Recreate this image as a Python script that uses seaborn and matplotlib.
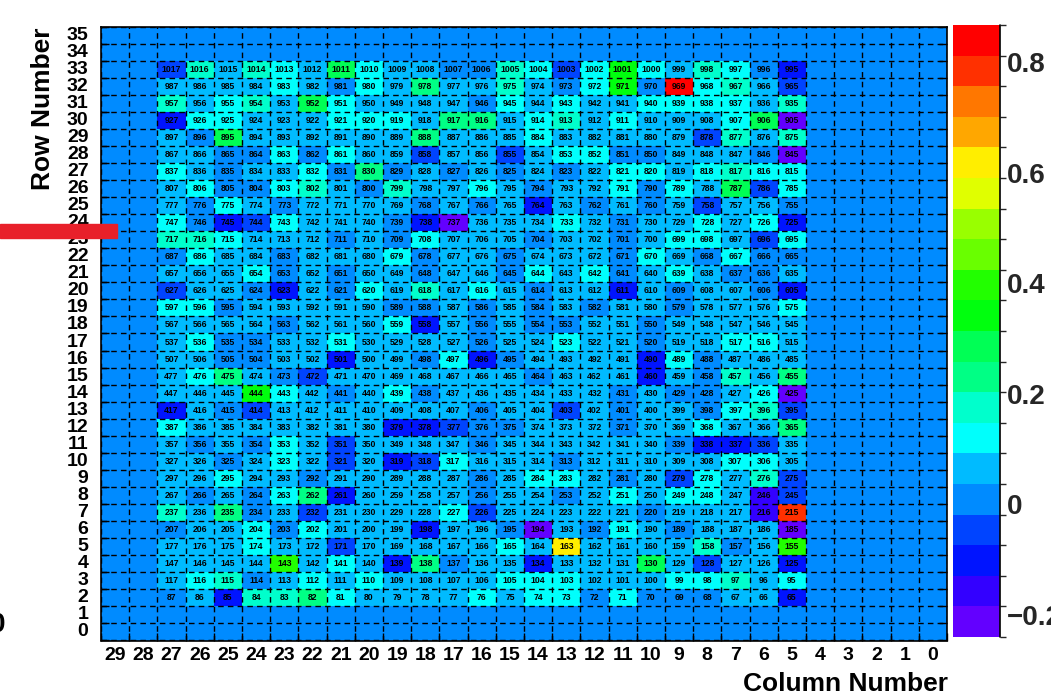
import colorsys

import numpy as np
import pandas as pd
import matplotlib
matplotlib.use("Agg")
import matplotlib.pyplot as plt
from matplotlib.colors import ListedColormap, BoundaryNorm
from matplotlib.patches import Rectangle
import seaborn as sns

# Instrumented columns, listed left to right on the reversed axis (27 ... 5)
columns = list(range(27, 4, -1))

# Per-channel response, one list per detector row (column 27 first)
row_33 = [-0.05, 0.17, 0.06, 0.17, 0.12, 0.06, 0.29, 0.12, 0.06, 0.06, 0.01, 0.01, 0.17, 0.12, -0.05, 0.12, 0.34, 0.12, 0.06, 0.17, 0.12, 0.01, -0.10]
row_32 = [0.06, 0.06, 0.06, 0.06, 0.12, 0.06, 0.01, 0.12, 0.06, 0.23, 0.06, 0.06, 0.17, 0.06, 0.01, 0.12, 0.34, 0.01, 0.84, 0.12, 0.17, 0.06, -0.05]
row_31 = [0.17, 0.06, 0.12, 0.17, 0.06, 0.29, 0.12, 0.06, 0.06, 0.06, 0.06, 0.01, 0.12, 0.06, 0.12, 0.06, 0.06, 0.12, 0.12, 0.12, 0.12, 0.06, 0.17]
row_30 = [-0.10, 0.12, 0.12, 0.06, 0.06, 0.06, 0.12, 0.12, 0.12, 0.06, 0.23, 0.23, 0.06, 0.12, 0.17, 0.06, 0.12, 0.06, 0.06, 0.06, 0.12, 0.29, -0.21]
row_29 = [0.06, 0.01, 0.29, 0.06, 0.06, 0.06, 0.06, 0.06, 0.06, 0.23, 0.06, 0.06, 0.06, 0.12, 0.06, 0.06, 0.06, 0.06, 0.06, -0.05, 0.17, 0.06, 0.17]
row_28 = [0.06, 0.06, 0.01, 0.01, 0.12, 0.01, 0.12, 0.06, 0.06, -0.05, 0.06, 0.06, -0.05, 0.06, 0.12, 0.12, 0.01, 0.01, 0.06, 0.06, 0.06, 0.01, -0.21]
row_27 = [0.12, 0.06, 0.01, 0.06, 0.06, 0.12, 0.01, 0.23, 0.01, 0.06, 0.01, 0.06, 0.01, 0.06, 0.01, 0.06, 0.12, 0.12, 0.06, 0.12, 0.17, 0.12, 0.12]
row_26 = [0.06, 0.12, 0.01, 0.01, 0.12, 0.17, 0.06, 0.01, 0.17, 0.06, 0.06, 0.12, 0.06, 0.01, 0.06, 0.06, 0.12, 0.01, 0.12, 0.06, 0.29, -0.05, 0.12]
row_25 = [0.06, 0.01, 0.12, 0.06, 0.01, 0.06, 0.06, 0.06, 0.06, 0.01, 0.06, 0.01, 0.06, -0.10, 0.06, 0.01, 0.06, 0.01, 0.06, -0.05, 0.06, 0.06, 0.01]
row_24 = [0.12, 0.01, -0.10, -0.05, 0.12, 0.06, 0.06, 0.06, 0.01, -0.10, -0.21, 0.06, 0.06, 0.06, 0.12, 0.06, 0.01, 0.06, 0.06, 0.12, 0.06, 0.12, -0.10]
row_23 = [0.17, 0.17, 0.12, 0.06, 0.06, 0.06, 0.01, 0.06, 0.01, 0.12, 0.06, 0.06, 0.06, 0.01, 0.06, 0.06, 0.01, 0.06, 0.12, 0.12, 0.06, -0.05, 0.12]
row_22 = [0.01, 0.12, 0.06, 0.06, 0.01, 0.06, 0.06, 0.06, 0.12, 0.01, 0.06, 0.06, 0.01, 0.06, 0.06, 0.06, 0.01, 0.12, 0.06, 0.01, 0.12, 0.01, 0.01]
row_21 = [0.06, 0.06, 0.06, 0.12, 0.01, 0.06, 0.01, 0.06, 0.06, 0.01, 0.06, 0.06, 0.01, 0.12, 0.06, 0.12, 0.01, 0.06, 0.12, 0.06, 0.01, 0.01, 0.06]
row_20 = [-0.05, 0.06, 0.06, 0.01, -0.10, 0.06, 0.01, 0.12, 0.06, 0.17, 0.06, 0.12, 0.06, 0.01, 0.06, 0.06, -0.10, 0.06, 0.01, 0.06, 0.06, 0.01, -0.10]
row_19 = [0.12, 0.12, 0.01, 0.06, 0.06, 0.06, 0.06, 0.06, 0.01, 0.01, 0.06, 0.01, 0.06, 0.01, 0.06, 0.01, 0.06, 0.06, 0.01, 0.06, 0.06, 0.06, 0.12]
row_18 = [0.06, 0.06, 0.06, 0.06, 0.01, 0.06, 0.06, 0.06, 0.12, -0.10, 0.06, 0.01, 0.06, 0.01, 0.01, 0.06, 0.06, 0.01, 0.06, 0.06, 0.06, 0.06, 0.06]
row_17 = [0.06, 0.12, 0.01, 0.01, 0.06, 0.06, 0.12, 0.06, 0.06, 0.06, 0.06, 0.01, 0.06, 0.06, 0.12, 0.06, 0.06, 0.01, 0.06, 0.06, 0.12, 0.12, 0.06]
row_16 = [0.06, 0.06, 0.01, 0.01, 0.06, 0.06, -0.10, 0.06, 0.06, 0.01, 0.12, -0.10, 0.01, 0.06, 0.06, 0.06, 0.06, -0.10, 0.12, 0.01, 0.06, 0.06, 0.06]
row_15 = [0.06, 0.12, 0.23, 0.06, 0.01, -0.05, 0.06, 0.06, 0.06, 0.06, 0.06, 0.06, 0.06, 0.01, 0.06, 0.06, 0.06, -0.10, 0.06, 0.01, 0.17, 0.06, 0.23]
row_14 = [0.06, 0.06, 0.06, 0.34, 0.12, 0.06, 0.01, 0.06, 0.12, 0.01, 0.06, 0.06, 0.06, 0.06, 0.06, 0.06, 0.01, 0.06, 0.01, 0.01, 0.06, 0.12, -0.21]
row_13 = [-0.10, 0.06, 0.01, -0.05, 0.06, 0.06, 0.06, 0.06, 0.06, 0.06, 0.06, 0.01, 0.06, 0.06, -0.05, 0.06, 0.01, 0.06, 0.06, 0.01, 0.12, 0.17, -0.05]
row_12 = [0.12, 0.06, 0.06, 0.06, 0.06, 0.06, 0.06, 0.06, -0.10, -0.10, -0.05, 0.01, 0.01, 0.06, 0.06, 0.06, 0.01, 0.06, 0.06, 0.12, 0.06, 0.06, 0.23]
row_11 = [0.06, 0.01, 0.06, 0.01, 0.12, 0.06, -0.05, 0.06, 0.06, 0.06, 0.06, 0.01, 0.06, 0.06, 0.06, 0.06, 0.06, 0.06, 0.01, -0.10, -0.10, -0.05, 0.06]
row_10 = [0.06, 0.06, 0.01, 0.06, 0.12, 0.06, -0.05, 0.06, -0.10, -0.05, 0.12, 0.06, 0.06, 0.06, 0.01, 0.06, 0.06, 0.06, 0.06, 0.06, 0.12, 0.12, 0.06]
row_9 = [0.06, 0.06, 0.12, 0.06, 0.06, 0.01, 0.06, 0.06, 0.06, 0.06, 0.06, 0.01, 0.06, 0.12, 0.12, 0.06, 0.01, 0.06, -0.05, 0.12, 0.06, 0.17, -0.05]
row_8 = [0.06, 0.01, 0.06, 0.01, 0.12, 0.23, -0.10, 0.06, 0.06, 0.06, 0.06, 0.01, 0.06, 0.06, 0.01, 0.06, 0.12, 0.06, 0.12, 0.12, 0.06, -0.16, -0.05]
row_7 = [0.17, 0.06, 0.23, 0.01, 0.06, -0.05, 0.06, 0.06, 0.06, 0.06, 0.12, -0.05, 0.06, 0.06, 0.06, 0.06, 0.06, 0.01, 0.06, 0.06, 0.06, -0.16, 0.78]
row_6 = [0.01, 0.06, 0.06, 0.12, 0.01, 0.12, 0.06, 0.06, 0.06, -0.10, 0.06, 0.06, 0.01, -0.21, 0.06, 0.01, 0.12, 0.06, 0.01, 0.06, 0.06, 0.06, -0.21]
row_5 = [0.06, 0.06, 0.06, 0.12, 0.06, 0.06, -0.05, 0.06, 0.06, 0.06, 0.06, 0.06, 0.12, 0.06, 0.62, 0.06, 0.06, 0.06, 0.06, 0.17, 0.01, 0.06, 0.40]
row_4 = [0.06, 0.06, 0.06, 0.06, 0.40, 0.06, 0.12, 0.06, -0.10, 0.23, 0.01, 0.06, 0.06, -0.10, 0.06, 0.06, 0.06, 0.29, 0.06, -0.05, 0.06, 0.06, -0.10]
row_3 = [0.06, 0.12, 0.17, 0.01, 0.06, 0.12, 0.06, 0.12, 0.06, 0.06, 0.06, 0.06, 0.12, 0.12, 0.12, 0.06, 0.06, 0.06, 0.12, 0.12, 0.17, 0.06, 0.12]
row_2 = [0.01, 0.06, -0.10, 0.17, 0.17, 0.23, 0.12, 0.06, 0.06, 0.06, 0.06, 0.12, 0.06, 0.12, 0.12, 0.01, 0.12, 0.01, 0.01, 0.01, 0.06, 0.06, -0.10]

detector_rows = {
    33: row_33, 32: row_32, 31: row_31, 30: row_30, 29: row_29, 28: row_28,
    27: row_27, 26: row_26, 25: row_25, 24: row_24, 23: row_23, 22: row_22,
    21: row_21, 20: row_20, 19: row_19, 18: row_18, 17: row_17, 16: row_16,
    15: row_15, 14: row_14, 13: row_13, 12: row_12, 11: row_11, 10: row_10,
    9: row_9, 8: row_8, 7: row_7, 6: row_6, 5: row_5, 4: row_4, 3: row_3,
    2: row_2,
}

# Full axis ranges (rows top to bottom, columns left to right)
axis_rows = list(range(35, -1, -1))
axis_cols = list(range(29, -1, -1))
channels_per_row = 30

# Colour scale: 20 contour levels on a rainbow palette
z_min, z_max = -0.24, 0.867
n_levels = 20
colorbar_ticks = [-0.2, 0.0, 0.2, 0.4, 0.6, 0.8]
colorbar_labels = ["\u22120.2", "0", "0.2", "0.4", "0.6", "0.8"]

values = pd.DataFrame(np.nan, index=axis_rows, columns=axis_cols)
channel_text = pd.DataFrame("", index=axis_rows, columns=axis_cols)
for r, vals in detector_rows.items():
    for c, v in zip(columns, vals):
        values.loc[r, c] = v
        channel_text.loc[r, c] = str(channels_per_row * r + c)

palette = []
for k in range(n_levels):
    idx = int((k + 0.99) * 50 / n_levels)
    hue = 280.0 - (idx + 1) * 280.0 / 50
    palette.append(colorsys.hls_to_rgb(hue / 360.0, 0.5, 1.0))
cmap = ListedColormap(palette)
norm = BoundaryNorm(np.linspace(z_min, z_max, n_levels + 1), n_levels)

sns.set_theme(style="white")
plt.rcParams["font.family"] = ["Liberation Sans", "DejaVu Sans"]
plt.rcParams["axes.unicode_minus"] = True

W, H = 1051, 694
fig = plt.figure(figsize=(W / 100, H / 100), dpi=100)


def fx(px):
    return px / W


def fy(py):
    return 1 - py / H


ax = fig.add_axes([fx(101), fy(640.5), fx(947) - fx(101), fy(26.5) - fy(640.5)])
cax = fig.add_axes([fx(953), fy(637), fx(1000) - fx(953), fy(25) - fy(637)])
ax.set_facecolor(palette[4])

sns.heatmap(
    values, ax=ax, cmap=cmap, norm=norm, cbar=False,
    annot=channel_text.values, fmt="",
    annot_kws=dict(fontsize=6.2, color="black", fontweight="bold"),
    xticklabels=True, yticklabels=True,
)
ax.set_xlabel("")
ax.set_ylabel("")

# Labels at cell centres, ticks and grid on the cell edges
ax.set_xticks(np.arange(len(axis_cols)) + 0.5)
ax.set_xticklabels([str(c) for c in axis_cols], rotation=0, fontsize=14,
                   fontweight="bold")
ax.set_yticks(np.arange(len(axis_rows)) + 0.5)
ax.set_yticklabels([str(r) for r in axis_rows], rotation=0, fontsize=14,
                   fontweight="bold", va="center")
ax.tick_params(axis="x", which="major", length=0, pad=5, colors="black")
ax.tick_params(axis="y", which="major", length=0, pad=9, colors="black")
ax.set_xticks(np.arange(0, len(axis_cols) + 1), minor=True)
ax.set_yticks(np.arange(0, len(axis_rows) + 1), minor=True)
ax.tick_params(which="minor", direction="in", length=6, width=1.0,
               color="black", bottom=True, left=True, top=False, right=True)
ax.grid(which="major", visible=False)
ax.grid(which="minor", visible=True, color="black", linestyle=(0, (4, 3)),
        linewidth=1.0)
ax.set_axisbelow(False)
for spine in ax.spines.values():
    spine.set_visible(True)
    spine.set_color("black")
    spine.set_linewidth(1.2)

# Palette axis
cbar = fig.colorbar(ax.collections[0], cax=cax, ticks=colorbar_ticks)
cbar.set_ticklabels(colorbar_labels)
cbar.outline.set_visible(False)
cax.tick_params(direction="in", length=12, width=1.2, color="black", pad=5,
                labelsize=20)
for lab in cax.get_yticklabels():
    lab.set_fontweight("bold")
cax.axvline(1.0, color="black", linewidth=1.2, clip_on=False)

# Axis titles
fig.text(fx(43), fy(28), "Row Number", rotation=90, ha="center", va="top",
         fontsize=19, fontweight="bold", color="black")
fig.text(fx(948), fy(672), "Column Number", ha="right", va="top",
         fontsize=19, fontweight="bold", color="black")
fig.text(fx(5), fy(625), "0", ha="right", va="center", fontsize=20,
         fontweight="bold", color="black")

# Marker bar pointing at row 23/24
fig.add_artist(Rectangle((0, fy(238)), fx(117), fy(224) - fy(238),
                         transform=fig.transFigure, color="#e8202a",
                         zorder=10))

fig.savefig("out.png", dpi=100)
